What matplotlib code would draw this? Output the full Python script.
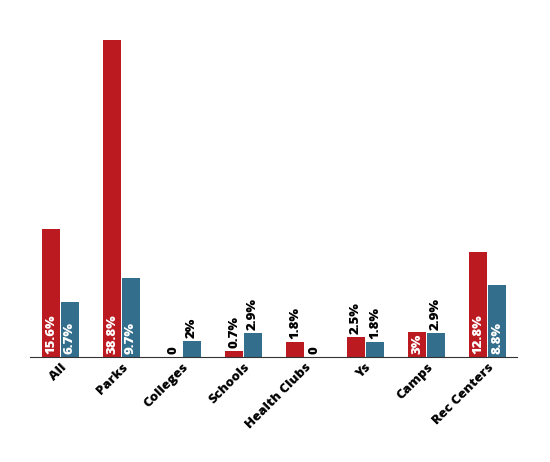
from matplotlib import pyplot as plt
import numpy as np

categories = ['All', 'Parks', 'Colleges', 'Schools', 'Health Clubs', 'Ys', 'Camps', 'Rec Centers']
red_values = [15.6, 38.8, 0, 0.7, 1.8, 2.5, 3, 12.8]
blue_values = [6.7, 9.7, 2, 2.9, 0, 1.8, 2.9, 8.8]
red_labels = ['15.6%', '38.8%', '0', '0.7%', '1.8%', '2.5%', '3%', '12.8%']
blue_labels = ['6.7%', '9.7%', '2%', '2.9%', '0', '1.8%', '2.9%', '8.8%']

RED = '#bb1a21'
BLUE = '#336e8d'

plt.rcParams['font.family'] = ['Open Sans', 'DejaVu Sans']

fig = plt.figure(figsize=(5.5, 4.62), dpi=100)
ax = fig.add_axes([0.0545, 0.2273, 0.8855, 0.7077])

x = np.arange(len(categories))
w = 0.29
off = 0.155
ax.bar(x - off, red_values, w, color=RED)
ax.bar(x + off, blue_values, w, color=BLUE)

ax.set_xlim(-0.5, 7.48)
ax.set_ylim(0, 40)
for s in ['top', 'right', 'left']:
    ax.spines[s].set_visible(False)
ax.spines['bottom'].set_color('#333333')
ax.set_yticks([])
ax.set_xticks(x)
ax.set_xticklabels(categories, rotation=45, ha='right', va='top', rotation_mode='anchor',
                   fontsize=9.5, fontweight='heavy')
ax.tick_params(axis='x', length=0, pad=3)

fig.canvas.draw()
renderer = fig.canvas.get_renderer()
px_per_unit = ax.bbox.height / 40.0

def label_bars(xs, vals, labels):
    for xi, v, lab in zip(xs, vals, labels):
        t = ax.text(xi, v, lab, rotation=90, ha='center', va='bottom',
                    fontsize=9.5, fontweight='heavy', color='black')
        tlen = t.get_window_extent(renderer).height
        bar_px = v * px_per_unit
        if bar_px > tlen + 1:
            t.set_position((xi, 3 / px_per_unit))
            t.set_color('white')
        else:
            t.set_position((xi, v + 3 / px_per_unit))

label_bars(x - off, red_values, red_labels)
label_bars(x + off, blue_values, blue_labels)

plt.savefig('out.png', dpi=100)
